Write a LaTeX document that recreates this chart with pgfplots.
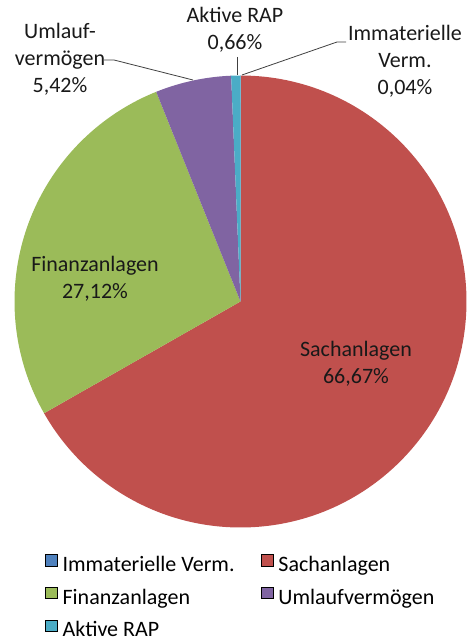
\documentclass[border=0pt]{standalone}
\usepackage{pgfplots}
\usepackage{pgfplotstable}
\pgfplotsset{compat=1.18}
\usepackage{fontspec}
\setmainfont{Carlito}

\definecolor{cImm}{HTML}{4F81BD}
\definecolor{cSach}{HTML}{C0504D}
\definecolor{cFin}{HTML}{9BBB59}
\definecolor{cUml}{HTML}{8064A2}
\definecolor{cRap}{HTML}{4BACC6}
\definecolor{leader}{HTML}{404040}

% shares in percent, clockwise from 12 o'clock
\pgfplotstableread{
share
0.04
66.67
27.12
5.42
0.66
}\piedata

\pgfplotstablegetelem{0}{share}\of\piedata \let\vA\pgfplotsretval
\pgfplotstablegetelem{1}{share}\of\piedata \let\vB\pgfplotsretval
\pgfplotstablegetelem{2}{share}\of\piedata \let\vC\pgfplotsretval
\pgfplotstablegetelem{3}{share}\of\piedata \let\vD\pgfplotsretval
\pgfplotstablegetelem{4}{share}\of\piedata \let\vE\pgfplotsretval

\pgfmathsetmacro\sc{360/(\vA+\vB+\vC+\vD+\vE)}
\pgfmathsetmacro\aA{90}
\pgfmathsetmacro\aB{\aA-\sc*\vA}
\pgfmathsetmacro\aC{\aB-\sc*\vB}
\pgfmathsetmacro\aD{\aC-\sc*\vC}
\pgfmathsetmacro\aE{\aD-\sc*\vD}
\pgfmathsetmacro\aF{\aE-\sc*\vE}

\def\cx{240.5}
\def\cy{341.5}
\def\rr{226pt}

\newcommand\piewedge[3]{%
  \fill[#1] (axis cs:\cx,\cy) -- ++(#2:\rr) arc[start angle=#2, end angle=#3, radius=\rr] -- cycle;}

\begin{document}
\begin{tikzpicture}
\useasboundingbox (0,0) rectangle (468pt,643pt);
\begin{axis}[
  at={(0,0)}, anchor=south west,
  width=468pt, height=643pt, scale only axis,
  xmin=0, xmax=468, ymin=0, ymax=643,
  hide axis, clip=false,
  legend columns=2,
  legend cell align=left,
  legend image code/.code={\fill[#1] (0pt,0.5pt) rectangle (12.5pt,12pt);},
  legend style={draw=none, fill=none, at={(axis cs:41.5,91)}, anchor=north west,
    font=\fontsize{22}{26}\selectfont, row sep=8.5pt,
    nodes={text height=15pt, text depth=5pt, inner xsep=5pt, inner ysep=2pt},
    /tikz/every even column/.append style={column sep=21pt}},
]
\piewedge{cImm}{\aA}{\aB}
\piewedge{cSach}{\aB}{\aC}
\piewedge{cFin}{\aC}{\aD}
\piewedge{cUml}{\aD}{\aE}
\piewedge{cRap}{\aE}{\aF}

\addlegendimage{fill=cImm}\addlegendentry{Immaterielle Verm.}
\addlegendimage{fill=cSach}\addlegendentry{Sachanlagen}
\addlegendimage{fill=cFin}\addlegendentry{Finanzanlagen}
\addlegendimage{fill=cUml}\addlegendentry{Umlaufvermögen}
\addlegendimage{fill=cRap}\addlegendentry{Aktive RAP}

\begin{scope}[every node/.style={font=\fontsize{22}{27}\selectfont, align=center, text=black!90}]
\node at (axis cs:356,279.5) {Sachanlagen\\66,67\%};
\node at (axis cs:95,364.5) {Finanzanlagen\\27,12\%};
\node at (axis cs:60,584) {Umlauf-\\vermögen\\5,42\%};
\node at (axis cs:235,613) {Aktive RAP\\0,66\%};
\node at (axis cs:405,581.5) {Immaterielle\\Verm.\\0,04\%};
\end{scope}

\draw[leader, line width=0.8pt] (axis cs:104,583) -- (axis cs:114,583) -- (axis cs:193,563);
\draw[leader, line width=0.8pt] (axis cs:237,586) -- (axis cs:237,568);
\draw[leader, line width=0.8pt] (axis cs:346,601) -- (axis cs:337,601) -- (axis cs:242,568);
\end{axis}
\end{tikzpicture}
\end{document}
